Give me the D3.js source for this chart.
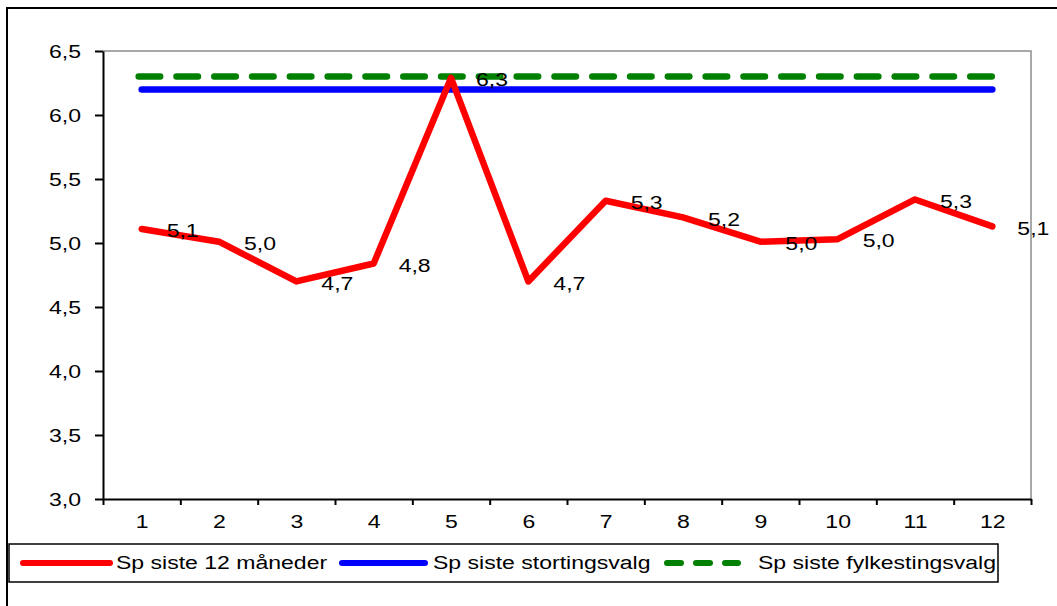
<!DOCTYPE html>
<html>
<head>
<meta charset="utf-8">
<script src="https://cdn.jsdelivr.net/npm/d3@7"></script>
<style>
  html, body { margin: 0; padding: 0; background: #fff; }
  svg { display: block; font-family: "Liberation Sans", Arial, sans-serif; }
</style>
</head>
<body>
<svg id="chart" width="1057" height="606"></svg>
<script>
// ---- data ----
const months = [1, 2, 3, 4, 5, 6, 7, 8, 9, 10, 11, 12];
const sp12 = [5.11, 5.01, 4.70, 4.84, 6.29, 4.70, 5.33, 5.20, 5.01, 5.03, 5.34, 5.13];
const stortingsvalg = 6.2;
const fylkestingsvalg = 6.3;
const yTickValues = [3.0, 3.5, 4.0, 4.5, 5.0, 5.5, 6.0, 6.5];
const seriesNames = ["Sp siste 12 måneder", "Sp siste stortingsvalg", "Sp siste fylkestingsvalg"];
const seriesColors = ["#ff0000", "#0000ff", "#008000"];

const fmt = v => v.toFixed(1).replace(".", ",");
const SX = 1.28; // horizontal text stretch

const svg = d3.select("#chart");

// outer frame
svg.append("rect").attr("x", 7).attr("y", 8).attr("width", 1200).attr("height", 800)
  .attr("fill", "none").attr("stroke", "#000").attr("stroke-width", 2);

const plot = { left: 103, right: 1031, top: 51, bottom: 499 };
const x = d3.scaleLinear().domain([0.5, 12.5]).range([plot.left, plot.right]);
const y = d3.scaleLinear().domain([3, 6.5]).range([plot.bottom, plot.top]);

// top and right gray border
svg.append("path")
  .attr("d", `M${plot.left},${plot.top}H${plot.right}V${plot.bottom}`)
  .attr("fill", "none").attr("stroke", "#8c8c8c").attr("stroke-width", 1.5);

// y axis
const yAxis = svg.append("g").attr("transform", `translate(${plot.left},0)`)
  .call(d3.axisLeft(y).tickValues(yTickValues).tickFormat(fmt).tickSize(8).tickSizeOuter(0));
yAxis.select(".domain").attr("stroke", "#000").attr("stroke-width", 2);
yAxis.selectAll(".tick line").attr("stroke", "#000").attr("stroke-width", 2);
yAxis.selectAll(".tick text")
  .attr("x", 0).attr("dy", "0.36em")
  .attr("transform", `translate(-22,0) scale(${SX},1)`)
  .attr("font-size", 18).attr("fill", "#000")
  .attr("font-family", "Liberation Sans, Arial, sans-serif");

// x axis: boundary ticks
const xTicksG = svg.append("g").attr("transform", `translate(0,${plot.bottom})`)
  .call(d3.axisBottom(x).tickValues(d3.range(0.5, 13, 1)).tickFormat("").tickSize(6).tickSizeOuter(0));
xTicksG.select(".domain").attr("stroke", "#000").attr("stroke-width", 2);
xTicksG.selectAll(".tick line").attr("stroke", "#000").attr("stroke-width", 2);

// x axis labels
const xLabG = svg.append("g").attr("transform", `translate(0,${plot.bottom})`)
  .call(d3.axisBottom(x).tickValues(months).tickFormat(d => d).tickSize(0));
xLabG.select(".domain").remove();
xLabG.selectAll(".tick text")
  .attr("y", 0).attr("dy", 0)
  .attr("transform", `translate(0,29) scale(${SX},1)`)
  .attr("font-size", 18).attr("fill", "#000")
  .attr("font-family", "Liberation Sans, Arial, sans-serif");

// reference lines
svg.append("line")
  .attr("x1", x(months[0])).attr("x2", x(months[months.length - 1]))
  .attr("y1", y(stortingsvalg)).attr("y2", y(stortingsvalg))
  .attr("stroke", seriesColors[1]).attr("stroke-width", 6.5).attr("stroke-linecap", "round");
svg.append("line")
  .attr("x1", x(months[0]) - 3).attr("x2", x(months[months.length - 1]))
  .attr("y1", y(fylkestingsvalg)).attr("y2", y(fylkestingsvalg))
  .attr("stroke", seriesColors[2]).attr("stroke-width", 6.5).attr("stroke-linecap", "round")
  .attr("stroke-dasharray", "21.5,16.3");

// main line
const line = d3.line().x((d, i) => x(months[i])).y(d => y(d));
svg.append("path").datum(sp12)
  .attr("d", line).attr("fill", "none")
  .attr("stroke", seriesColors[0]).attr("stroke-width", 6.5)
  .attr("stroke-linejoin", "round").attr("stroke-linecap", "round");

// data labels
svg.append("g").selectAll("text").data(sp12).join("text")
  .attr("transform", (d, i) => `translate(${x(months[i]) + 25},${y(d) + 2}) scale(${SX},1)`)
  .attr("dy", "0.35em")
  .attr("font-size", 18).attr("fill", "#000")
  .text(d => fmt(d));

// legend
const leg = svg.append("g");
leg.append("rect").attr("x", 9).attr("y", 544).attr("width", 989).attr("height", 38)
  .attr("fill", "#fff").attr("stroke", "#000").attr("stroke-width", 1.5);
const legItems = [
  { x1: 23, x2: 110, tx: 116, dash: null },
  { x1: 342, x2: 425, tx: 433, dash: null },
  { x1: 667, x2: 738, tx: 758, dash: "14,15" }
];
legItems.forEach((it, i) => {
  const l = leg.append("line").attr("x1", it.x1).attr("x2", it.x2).attr("y1", 563).attr("y2", 563)
    .attr("stroke", seriesColors[i]).attr("stroke-width", 6).attr("stroke-linecap", "round");
  if (it.dash) l.attr("stroke-dasharray", it.dash);
  leg.append("text").attr("transform", `translate(${it.tx},569) scale(${SX},1)`)
    .attr("font-size", 18).attr("fill", "#000").text(seriesNames[i]);
});
</script>
</body>
</html>
